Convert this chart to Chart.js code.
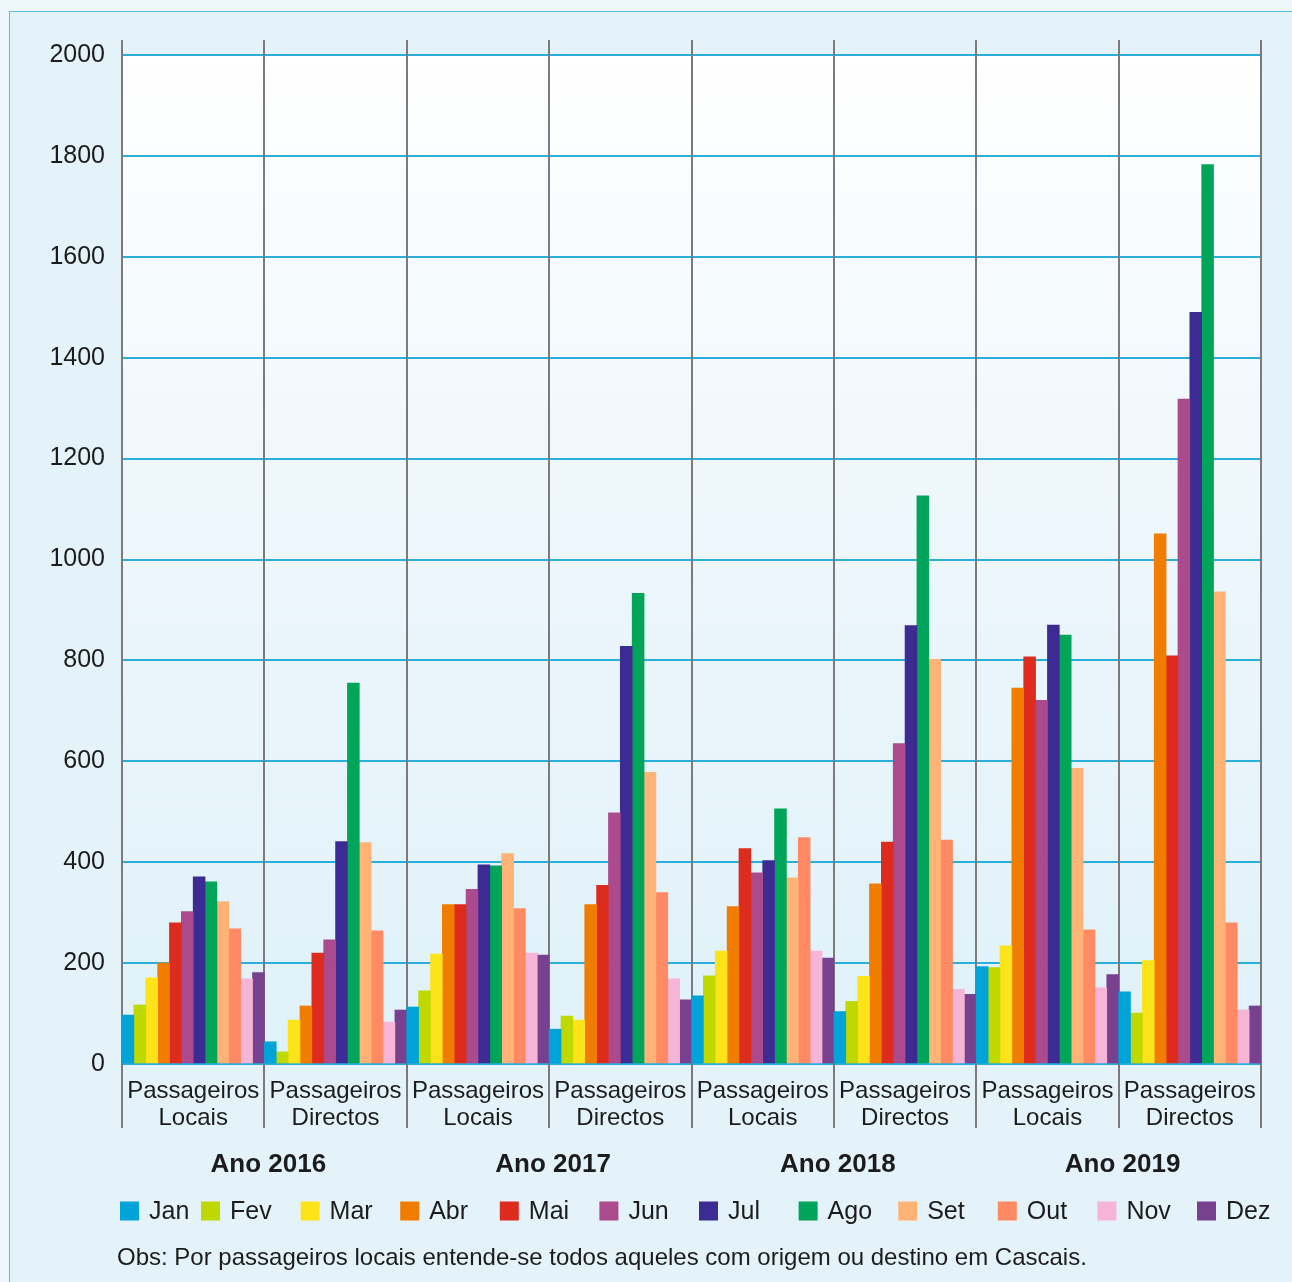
<!DOCTYPE html>
<html lang="pt">
<head>
<meta charset="utf-8">
<title>Passageiros 2016-2019</title>
<script src="https://cdn.jsdelivr.net/npm/chart.js@4/dist/chart.umd.min.js"></script>
<style>
  html, body { margin: 0; padding: 0; width: 1292px; height: 1282px; overflow: hidden; background: #eef7fb; }
  #frame { position: absolute; left: 9px; top: 11px; width: 1300px; height: 1300px;
           background: #e4f3fa; border: 1.5px solid #5bbfe2; box-sizing: border-box; }
  #c { position: absolute; left: 0; top: 0; }
</style>
</head>
<body>
<div id="frame"></div>
<canvas id="c" width="1292" height="1282"></canvas>
<script>
// Categorias (tipo de passageiro por ano)
const categories = [
  ['Passageiros', 'Locais'], ['Passageiros', 'Directos'],
  ['Passageiros', 'Locais'], ['Passageiros', 'Directos'],
  ['Passageiros', 'Locais'], ['Passageiros', 'Directos'],
  ['Passageiros', 'Locais'], ['Passageiros', 'Directos']
];
const years = ['Ano 2016', 'Ano 2017', 'Ano 2018', 'Ano 2019'];
const months = ['Jan', 'Fev', 'Mar', 'Abr', 'Mai', 'Jun', 'Jul', 'Ago', 'Set', 'Out', 'Nov', 'Dez'];
const monthColors = ['#00a4d8', '#bfd800', '#fce31a', '#f07d00', '#dd2c1e', '#ab4a8c',
                     '#3d2b94', '#00a55a', '#ffb377', '#ff8a63', '#f6b5d6', '#774190'];

// Passageiros por mês: [L2016, D2016, L2017, D2017, L2018, D2018, L2019, D2019]
const jan = [97, 44, 113, 69, 135, 104, 193, 143];
const fev = [117, 24, 145, 95, 175, 124, 191, 101];
const mar = [171, 87, 218, 87, 224, 174, 234, 205];
const abr = [200, 115, 316, 316, 312, 357, 745, 1051];
const mai = [280, 220, 316, 354, 427, 440, 807, 809];
const jun = [302, 246, 346, 498, 379, 635, 721, 1318];
const jul = [371, 441, 395, 828, 403, 869, 870, 1490];
const ago = [361, 755, 393, 933, 506, 1126, 850, 1783];
const set = [322, 439, 417, 578, 369, 802, 586, 936];
const out = [268, 264, 308, 340, 449, 444, 266, 280];
const nov = [169, 83, 220, 169, 224, 148, 151, 107];
const dez = [181, 107, 216, 127, 210, 138, 177, 115];
const monthValues = [jan, fev, mar, abr, mai, jun, jul, ago, set, out, nov, dez];

const note = 'Obs: Por passageiros locais entende-se todos aqueles com origem ou destino em Cascais.';

const FONT = '"Liberation Sans", Arial, sans-serif';
const TEXT = '#1c1c1c';

// Fundo em degradê da área do gráfico
const plotBackground = {
  id: 'plotBackground',
  beforeDraw(chart) {
    const { ctx, chartArea: a } = chart;
    const g = ctx.createLinearGradient(0, a.top, 0, a.bottom);
    g.addColorStop(0, '#ffffff');
    g.addColorStop(0.45, '#eef7fc');
    g.addColorStop(1, '#dff1f9');
    ctx.save();
    ctx.fillStyle = g;
    ctx.fillRect(a.left, a.top, a.right - a.left, a.bottom - a.top);
    ctx.restore();
  }
};

// Separadores verticais entre categorias (ultrapassam a área do gráfico)
const separators = {
  id: 'separators',
  beforeDatasetsDraw(chart) {
    const { ctx, chartArea: a } = chart;
    const x = chart.scales.x;
    const step = x.width / chart.data.labels.length;
    ctx.save();
    ctx.strokeStyle = '#7b7b7b';
    ctx.lineWidth = 2;
    for (let i = 0; i <= chart.data.labels.length; i++) {
      const px = Math.round(x.left + i * step);
      ctx.beginPath();
      ctx.moveTo(px, a.top - 15);
      ctx.lineTo(px, a.bottom + 64);
      ctx.stroke();
    }
    ctx.restore();
  }
};

// Rótulos dos anos, legenda e nota
const annotations = {
  id: 'annotations',
  afterDraw(chart) {
    const { ctx, chartArea: a } = chart;
    const x = chart.scales.x;
    ctx.save();
    ctx.fillStyle = TEXT;
    ctx.textBaseline = 'middle';

    ctx.font = 'bold 26px ' + FONT;
    ctx.textAlign = 'center';
    years.forEach((y, i) => {
      const cx = (x.getPixelForValue(2 * i) + x.getPixelForValue(2 * i + 1)) / 2 + 4;
      ctx.fillText(y, cx, a.bottom + 101);
    });

    ctx.font = '25px ' + FONT;
    ctx.textAlign = 'left';
    chart.data.datasets.forEach((ds, i) => {
      const bx = i === 0 ? 120 : 201 + (i - 1) * 99.6;
      const cy = a.bottom + 147;
      ctx.fillStyle = ds.backgroundColor;
      ctx.fillRect(bx, cy - 9.5, 19, 19);
      ctx.fillStyle = TEXT;
      ctx.fillText(ds.label, bx + 29, cy + 1);
    });

    ctx.font = '24px ' + FONT;
    ctx.fillText(note, 117, a.bottom + 194);
    ctx.restore();
  }
};

new Chart(document.getElementById('c'), {
  type: 'bar',
  data: {
    labels: categories,
    datasets: months.map((m, i) => ({
      label: m,
      data: monthValues[i],
      backgroundColor: monthColors[i],
      borderWidth: 0,
      barPercentage: 1,
      categoryPercentage: 1
    }))
  },
  options: {
    responsive: false,
    animation: false,
    devicePixelRatio: 1,
    layout: { padding: { top: 55, right: 31, left: 0, bottom: 0 } },
    plugins: { legend: { display: false }, tooltip: { enabled: false } },
    scales: {
      x: {
        grid: { display: false },
        border: { display: false },
        ticks: {
          color: TEXT,
          font: { family: FONT, size: 24, lineHeight: 1.125 },
          padding: 6,
          maxRotation: 0,
          autoSkip: false
        },
        afterFit(s) { s.height = 218; }
      },
      y: {
        min: 0,
        max: 2000,
        grid: { color: '#2aaedb', lineWidth: 2, drawTicks: false },
        border: { display: false },
        ticks: {
          stepSize: 200,
          color: TEXT,
          font: { family: FONT, size: 25 },
          padding: 17,
          callback: v => String(v)
        },
        afterFit(s) { s.width = 122; }
      }
    }
  },
  plugins: [plotBackground, separators, annotations]
});
</script>
</body>
</html>
